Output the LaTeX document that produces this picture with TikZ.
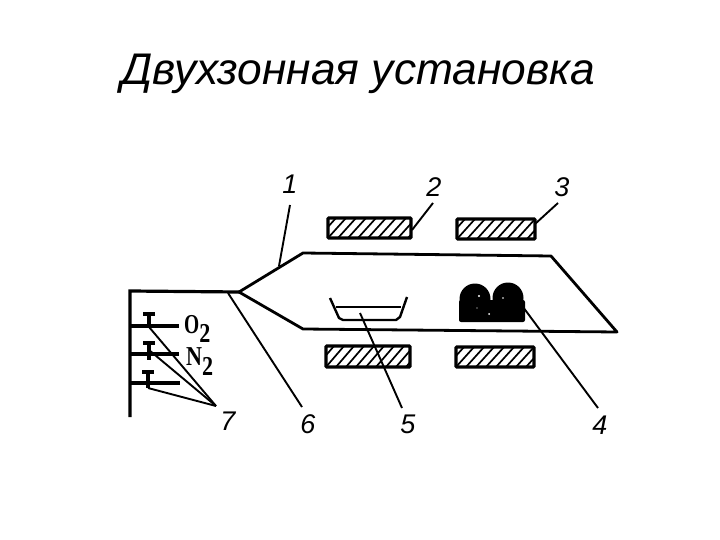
\documentclass[tikz,border=0pt]{standalone}
\usepackage{fontspec}
\usetikzlibrary{calc}
\setmainfont{Liberation Sans}
\newfontfamily\gasfont{Liberation Serif}
\begin{document}
\begin{tikzpicture}[x=1pt,y=-1pt,
  wall/.style={line width=3.2pt,black},
  tube/.style={line width=2.8pt,black,line join=round},
  leader/.style={line width=1.9pt,black},
  heater/.style={draw=black,line width=3.2pt,rounded corners=0.8pt},
  hatchline/.style={line width=1.7pt,black},
  digit/.style={font=\fontsize{27}{27}\selectfont\itshape,inner sep=0pt},
  gas/.style={font=\gasfont\bfseries\fontsize{26}{26}\selectfont,inner sep=0pt,anchor=base west},
  titletext/.style={font=\fontsize{44.3}{44.3}\selectfont\itshape,inner sep=0pt,anchor=base west}]
\useasboundingbox (0,0) rectangle (720,540);
\fill[white] (0,0) rectangle (720,540);
\node[titletext] (title) at (121,85) {Двухзонная установка};

% heaters
\foreach \n/\xa/\ya/\xb/\yb in {h2/328/218/411/238, h3/457/219/535/239, h5/326/346/410/367, h6/456/347/534/367}{
  \begin{scope}
    \clip (\xa,\ya) rectangle (\xb,\yb);
    \foreach \k in {0,10,...,110}{
      \draw[hatchline] (\xa+\k-10,\yb) -- (\xa+\k+8,\ya);
    }
  \end{scope}
  \draw[heater] (\xa,\ya) rectangle (\xb,\yb);
  \coordinate (\n) at (\xb,\ya);
}

% quartz tube
\coordinate (tip) at (239,292);
\coordinate (tb) at (303,329);
\coordinate (tr) at (617,332);
\coordinate (ts) at (551,256);
\coordinate (tt) at (303,253);
\draw[tube] (tip) -- (tb) -- (tr) -- (ts) -- (tt) -- cycle;

% gas manifold
\coordinate (wt) at (130,291);
\coordinate (wb) at (130,417);
\draw[wall] (wb) -- (wt) -- (tip);
\foreach \n/\y/\e in {a/326/179,b/354/179,c/383/180}{
  \coordinate (p\n) at (130,\y);
  \coordinate (q\n) at (\e,\y);
  \draw[wall] (p\n) -- (q\n);
}
% valves
\foreach \n/\x/\ya/\yb in {va/149/314/327,vb/149/343/360,vc/148/372/388}{
  \coordinate (\n t) at (\x,\ya);
  \coordinate (\n b) at (\x,\yb);
  \draw[line width=3.6pt] (\n t) -- (\n b);
  \draw[line width=3.6pt] (\x-6,\ya) -- (\x+6,\ya);
}

% boat
\coordinate (b1) at (330,298);
\coordinate (b2) at (339,318);
\coordinate (b3) at (343,320);
\coordinate (b4) at (396,320);
\coordinate (b5) at (400,317);
\coordinate (b6) at (407,297);
\draw[line width=2.4pt,line join=round] (b1) -- (b2) -- (b3) -- (b4) -- (b5) -- (b6);
\coordinate (b7) at (336,307);
\coordinate (b8) at (401,307);
\draw[line width=2.4pt] (b7) -- (b8);

% source
\fill (475,299) circle (15.5);
\fill (508,298) circle (15.5);
\fill[rounded corners=2pt] (459,300) rectangle (525,322);
\fill[white] (479,296) circle (1.2) (489,314) circle (1) (477,308) circle (0.7) (503,298) circle (0.8);

% labels
\node[digit] (n1) at (290,184) {1};
\node[digit] (n2) at (434,187) {2};
\node[digit] (n3) at (562,187) {3};
\node[digit] (n4) at (600,425) {4};
\node[digit] (n5) at (408,424) {5};
\node[digit] (n6) at (308,424) {6};
\node[digit] (n7) at (228,421) {7};
\node[gas] (o2) at (184,333) {\scalebox{0.75}[1.05]{O}\raisebox{-9pt}{\scalebox{0.85}[1.05]{2}}};
\node[gas] (n2gas) at (186,365) {\scalebox{0.85}[1.05]{N}\raisebox{-10pt}{\scalebox{0.85}[1.05]{2}}};

% leaders
\coordinate (l1) at (290,205);
\coordinate (l1e) at (279,266);
\draw[leader] (l1) -- (l1e);
\coordinate (l2) at (433,203);
\draw[leader] (l2) -- ($(h2)+(1,12)$);
\coordinate (l3) at (558,203);
\draw[leader] (l3) -- ($(h3)+(0,5)$);
\coordinate (l4) at (598,408);
\coordinate (l4e) at (523,307);
\draw[leader] (l4) -- (l4e);
\coordinate (l5) at (402,408);
\coordinate (l5e) at (360,313);
\draw[leader] (l5) -- (l5e);
\coordinate (l6) at (302,407);
\coordinate (l6e) at (228,293);
\draw[leader] (l6) -- (l6e);
\coordinate (l7) at (216,406);
\draw[leader] (l7) -- (vab);
\draw[leader] (l7) -- (149,350);
\draw[leader] (l7) -- (vcb);
\end{tikzpicture}
\end{document}
